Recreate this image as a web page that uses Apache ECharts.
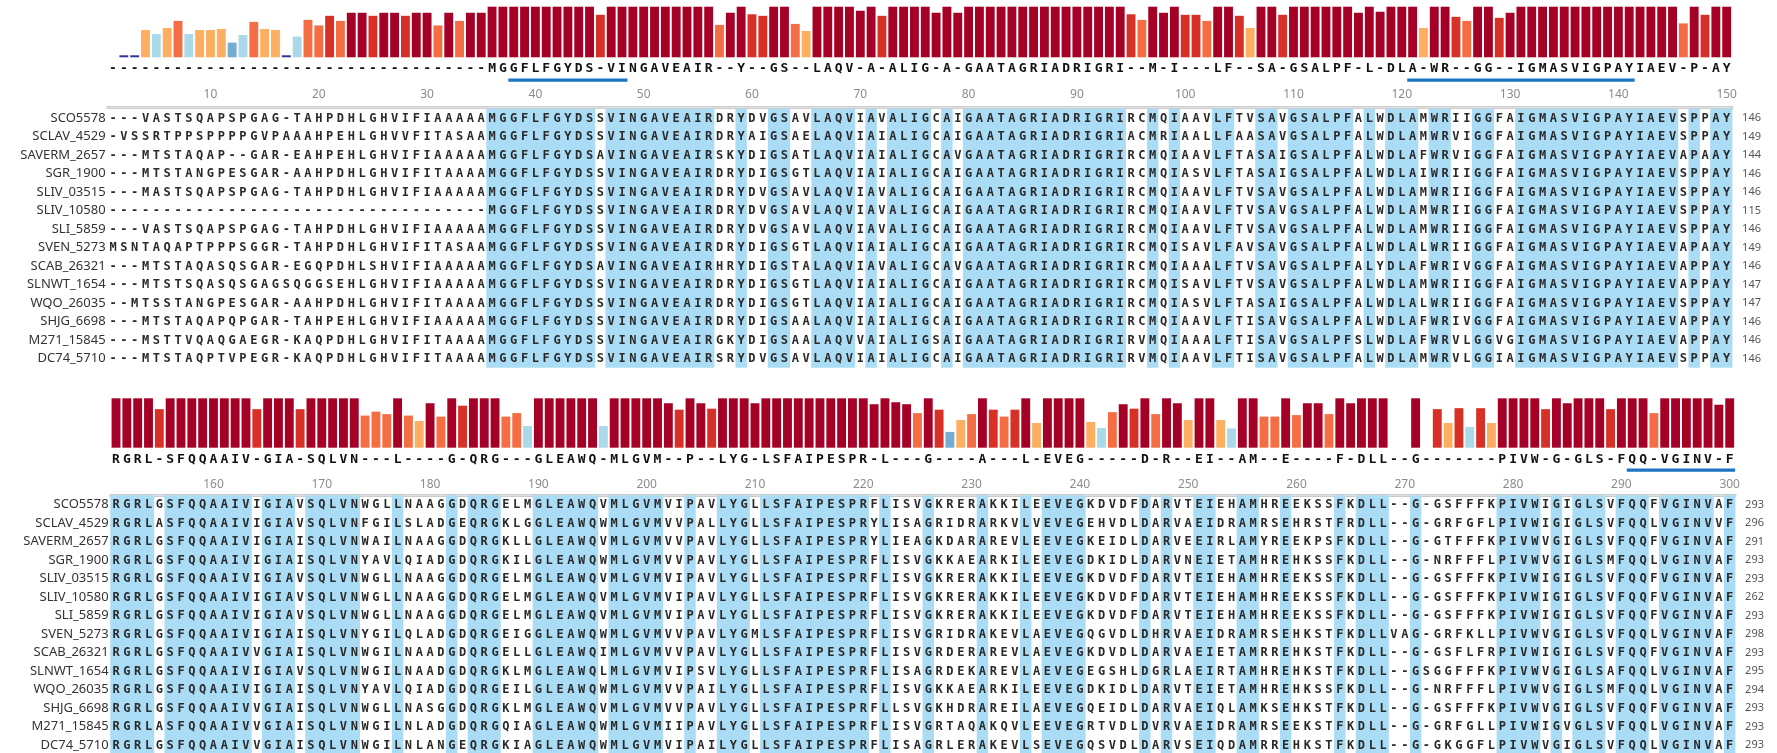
<!DOCTYPE html>
<html>
<head>
<meta charset="utf-8">
<script src="https://cdn.jsdelivr.net/npm/echarts/dist/echarts.min.js"></script>
<style>
  html, body { margin: 0; padding: 0; background: #ffffff; }
  #chart { width: 1777px; height: 753px; }
</style>
</head>
<body>
<div id="chart"></div>
<script>
// Sequence names (rows) and residue counts at the end of each block
const names = ['SCO5578', 'SCLAV_4529', 'SAVERM_2657', 'SGR_1900', 'SLIV_03515', 'SLIV_10580', 'SLI_5859',
  'SVEN_5273', 'SCAB_26321', 'SLNWT_1654', 'WQO_26035', 'SHJG_6698', 'M271_15845', 'DC74_5710'];
const counts1 = [146, 149, 144, 146, 146, 115, 146, 149, 146, 147, 147, 146, 146, 146];
const counts2 = [293, 296, 291, 293, 293, 262, 293, 298, 293, 295, 294, 293, 293, 293];

// Consensus lines (columns 1-150 and 151-300)
const consensus1 = '-----------------------------------MGGFLFGYDS-VINGAVEAIR--Y--GS--LAQV-A-ALIG-A-GAATAGRIADRIGRI--M-I---LF--SA-GSALPF-L-DLA-WR--GG--IGMASVIGPAYIAEV-P-AY';
const consensus2 = 'RGRL-SFQQAAIV-GIA-SQLVN---L----G-QRG---GLEAWQ-MLGVM--P--LYG-LSFAIPESPR-L---G----A---L-EVEG-----D-R--EI--AM--E----F-DLL--G-------PIVW-G-GLS-FQQ-VGINV-F';

// Aligned sequences, columns 1-150
const block1Seqs = [
  '---VASTSQAPSPGAG-TAHPDHLGHVIFIAAAAAMGGFLFGYDSSVINGAVEAIRDRYDVGSAVLAQVIAVALIGCAIGAATAGRIADRIGRIRCMQIAAVLFTVSAVGSALPFALWDLAMWRIIGGFAIGMASVIGPAYIAEVSPPAY',
  '-VSSRTPPSPPPPGVPAAAHPEHLGHVVFITASAAMGGFLFGYDSSVINGAVEAIRDRYAIGSAELAQVIAIALIGCAIGAATAGRIADRIGRIACMRIAALLFAASAVGSALPFALWDLAMWRVIGGFAIGMASVIGPAYIAEVSPPAY',
  '---MTSTAQAP--GAR-EAHPEHLGHVIFIAAAAAMGGFLFGYDSAVINGAVEAIRSKYDIGSATLAQVIAIALIGCAVGAATAGRIADRIGRIRCMQIAAVLFTASAIGSALPFALWDLAFWRVIGGFAIGMASVIGPAYIAEVAPAAY',
  '---MTSTANGPESGAR-AAHPDHLGHVIFITAAAAMGGFLFGYDSSVINGAVEAIRDRYDIGSGTLAQVIAIALIGCAIGAATAGRIADRIGRIRCMQIASVLFTASAIGSALPFALWDLAIWRIIGGFAIGMASVIGPAYIAEVSPPAY',
  '---MASTSQAPSPGAG-TAHPDHLGHVIFIAAAAAMGGFLFGYDSSVINGAVEAIRDRYDVGSAVLAQVIAVALIGCAIGAATAGRIADRIGRIRCMQIAAVLFTVSAVGSALPFALWDLAMWRIIGGFAIGMASVIGPAYIAEVSPPAY',
  '-----------------------------------MGGFLFGYDSSVINGAVEAIRDRYDVGSAVLAQVIAVALIGCAIGAATAGRIADRIGRIRCMQIAAVLFTVSAVGSALPFALWDLAMWRIIGGFAIGMASVIGPAYIAEVSPPAY',
  '---VASTSQAPSPGAG-TAHPDHLGHVIFIAAAAAMGGFLFGYDSSVINGAVEAIRDRYDVGSAVLAQVIAVALIGCAIGAATAGRIADRIGRIRCMQIAAVLFTVSAVGSALPFALWDLAMWRIIGGFAIGMASVIGPAYIAEVSPPAY',
  'MSNTAQAPTPPPSGGR-TAHPDHLGHVIFITASAAMGGFLFGYDSSVINGAVEAIRDRYDIGSGTLAQVIAIALIGCAIGAATAGRIADRIGRIRCMQISAVLFAVSAVGSALPFALWDLALWRIIGGFAIGMASVIGPAYIAEVAPAAY',
  '---MTSTAQASQSGAR-EGQPDHLSHVIFIAAAAAMGGFLFGYDSAVINGAVEAIRHRYDIGSTALAQVIAVALIGCAVGAATAGRIADRIGRIRCMQIAAALFTVSAVGSALPFALYDLAFWRIVGGFAIGMASVIGPAYIAEVAPPAY',
  '---MTSTSQASQSGAGSQGGSEHLGHVIFIAAAAAMGGFLFGYDSSVINGAVEAIRDRYDIGSGTLAQVIAIALIGCAIGAATAGRIADRIGRIRCMQISAVLFTVSAVGSALPFALWDLAMWRIIGGFAIGMASVIGPAYIAEVAPPAY',
  '--MTSSTANGPESGAR-AAHPDHLGHVIFITAAAAMGGFLFGYDSSVINGAVEAIRDRYDIGSGTLAQVIAIALIGCAIGAATAGRIADRIGRIRCMQIASVLFTASAIGSALPFALWDLALWRIIGGFAIGMASVIGPAYIAEVSPPAY',
  '---MTSTAQAPQPGAR-TAHPEHLGHVIFIAAAAAMGGFLFGYDSSVINGAVEAIRDRYDIGSAALAQVIAIALIGCAIGAATAGRIADRIGRIRCMQIAAVLFTISAVGSALPFALWDLAFWRIVGGFAIGMASVIGPAYIAEVAPPAY',
  '---MSTTVQAQGAEGR-KAQPDHLGHVIFITAAAAMGGFLFGYDSSVINGAVEAIRGKYDIGSAALAQVVAIALIGSAIGAATAGRIADRIGRIRVMQIAAALFTISAVGSALPFSLWDLAFWRVLGGVGIGMASVIGPAYIAEVAPPAY',
  '---MTSTAQPTVPEGR-KAQPDHLGHVIFITAAAAMGGFLFGYDSSVINGAVEAIRSRYDVGSAVLAQVIAIALIGCAIGAATAGRIADRIGRIRVMQIAAVLFTISAVGSALPFALWDLAMWRVLGGIAIGMASVIGPAYIAEVSPPAY'
];

// Aligned sequences, columns 151-300
const block2Seqs = [
  'RGRLGSFQQAAIVIGIAVSQLVNWGLLNAAGGDQRGELMGLEAWQVMLGVMVIPAVLYGLLSFAIPESPRFLISVGKRERAKKILEEVEGKDVDFDARVTEIEHAMHREEKSSFKDLL--G-GSFFFKPIVWIGIGLSVFQQFVGINVAF',
  'RGRLASFQQAAIVIGIAVSQLVNFGILSLADGEQRGKLGGLEAWQWMLGVMVVPALLYGLLSFAIPESPRYLISAGRIDRARKVLVEVEGEHVDLDARVAEIDRAMRSEHRSTFRDLL--G-GRFGFLPIVWIGIGLSVFQQLVGINVVF',
  'RGRLGSFQQAAIVIGIAISQLVNWAILNAAGGDQRGKLLGLEAWQVMLGVMVVPAVLYGLLSFAIPESPRYLIEAGKDARAREVLEEVEGKEIDLDARVEEIRLAMYREEKPSFKDLL--G-GTFFFKPIVWVGIGLSVFQQFVGINVAF',
  'RGRLGSFQQAAIVIGIAISQLVNYAVLQIADGDQRGKILGLEAWQWMLGVMVVPAVLYGLLSFAIPESPRFLISVGKKAEARKILEEVEGDKIDLDARVNEIETAMHREHKSSFKDLL--G-NRFFFLPIVWVGIGLSMFQQLVGINVAF',
  'RGRLGSFQQAAIVIGIAVSQLVNWGLLNAAGGDQRGELMGLEAWQVMLGVMVIPAVLYGLLSFAIPESPRFLISVGKRERAKKILEEVEGKDVDFDARVTEIEHAMHREEKSSFKDLL--G-GSFFFKPIVWIGIGLSVFQQFVGINVAF',
  'RGRLGSFQQAAIVIGIAVSQLVNWGLLNAAGGDQRGELMGLEAWQVMLGVMVIPAVLYGLLSFAIPESPRFLISVGKRERAKKILEEVEGKDVDFDARVTEIEHAMHREEKSSFKDLL--G-GSFFFKPIVWIGIGLSVFQQFVGINVAF',
  'RGRLGSFQQAAIVIGIAVSQLVNWGLLNAAGGDQRGELMGLEAWQVMLGVMVIPAVLYGLLSFAIPESPRFLISVGKRERAKKILEEVEGKDVDFDARVTEIEHAMHREEKSSFKDLL--G-GSFFFKPIVWIGIGLSVFQQFVGINVAF',
  'RGRLGSFQQAAIVIGIAISQLVNYGILQLADGDQRGEIGGLEAWQWMLGVMVVPAVLYGMLSFAIPESPRFLISVGRIDRAKEVLAEVEGQGVDLDHRVAEIDRAMRSEHKSTFKDLLVAG-GRFKLLPIVWVGIGLSVFQQLVGINVAF',
  'RGRLGSFQQAAIVVGIAISQLVNWGILNAADGDQRGELLGLEAWQIMLGVMVVPAVLYGLLSFAIPESPRFLISVGRDERAREVLAEVEGKDVDLDARVAEIETAMRREHKSTFKDLL--G-GSFLFRPIVWIGIGLSVFQQFVGINVAF',
  'RGRLGSFQQAAIVIGIAVSQLVNWGILNAADGDQRGKLMGLEAWQLMLGVMVIPSVLYGLLSFAIPESPRFLISAGRDEKAREVLAEVEGEGSHLDGRLAEIRTAMHREHKSTFKDLL--GSGGFFFKPIVWVGIGLSAFQQLVGINVAF',
  'RGRLGSFQQAAIVIGIAISQLVNYAVLQIADGDQRGEILGLEAWQWMLGVMVVPAILYGLLSFAIPESPRFLISVGKKAEARKILEEVEGDKIDLDARVTEIETAMHREHKSSFKDLL--G-NRFFFLPIVWVGIGLSMFQQLVGINVAF',
  'RGRLGSFQQAAIVVGIAISQLVNWGLLNASGGDQRGKLMGLEAWQVMLGVMVVPAVLYGLLSFAIPESPRFLLSVGKHDRAREILAEVEGQEIDLDARVAEIQLAMKSEHKSTFKDLL--G-GSFFFKPIVWVGIGLSVFQQFVGINVAF',
  'RGRLASFQQAAIVVGIAISQLVNWGILNLADGDQRGQIAGLEAWQWMLGVMIIPAVLYGLLSFAIPESPRFLISVGRTAQAKQVLEEVEGRTVDLDVRVAEIDRAMRSEEKSTFKDLL--G-GRFGLLPIVWIGVGLSVFQQLVGINVAF',
  'RGRLGSFQQAAIVVGIAISQLVNWGILNLANGEQRGKIAGLEAWQWMLGVMVIPAILYGLLSFAIPESPRFLISAGRLERAKEVLSEVEGQSVDLDARVSEIQDAMRREHKSTFKDLL--G-GKGGFLPIVWVGIGLSVFQQLVGINVAF'
];

// Per-column conservation scores (bar heights), columns 1-150
const scores1 = [
  0, 0.04, 0.04, 0.54, 0.46, 0.58, 0.72, 0.46, 0.54, 0.54,
  0.56, 0.29, 0.44, 0.70, 0.56, 0.54, 0.04, 0.41, 0.74, 0.63,
  0.82, 0.72, 0.88, 0.88, 0.82, 0.88, 0.88, 0.82, 0.88, 0.88,
  0.63, 0.88, 0.72, 0.88, 0.88, 1, 1, 1, 1, 1,
  1, 1, 1, 1, 1, 0.84, 1, 1, 1, 1,
  1, 1, 1, 1, 1, 1, 0.64, 0.88, 1, 0.85,
  0.82, 1, 1, 0.66, 0.52, 1, 1, 1, 1, 0.92,
  1, 0.82, 1, 1, 1, 1, 0.88, 1, 0.88, 1,
  1, 1, 1, 1, 1, 1, 1, 1, 1, 1,
  1, 1, 1, 1, 0.85, 0.74, 1, 0.88, 1, 0.84,
  0.84, 0.72, 1, 1, 0.82, 0.58, 1, 1, 0.84, 1,
  1, 1, 1, 1, 1, 0.88, 1, 0.90, 1, 1,
  1, 0.58, 1, 1, 0.80, 0.72, 1, 1, 0.78, 0.88,
  1, 1, 1, 1, 1, 1, 1, 1, 1, 1,
  1, 1, 1, 1, 1, 0.67, 1, 0.84, 1, 1
];

// Per-column conservation scores, columns 151-300
const scores2 = [
  1, 1, 1, 1, 0.78, 1, 1, 1, 1, 1,
  1, 1, 1, 0.78, 1, 1, 1, 0.78, 1, 1,
  1, 1, 1, 0.65, 0.73, 0.68, 1, 0.65, 0.54, 0.90,
  0.63, 1, 0.85, 1, 1, 1, 0.63, 0.70, 0.44, 1,
  1, 1, 1, 1, 1, 0.44, 1, 1, 1, 1,
  1, 0.90, 0.77, 1, 0.90, 0.79, 1, 1, 1, 0.90,
  1, 1, 1, 1, 1, 1, 1, 1, 1, 1,
  0.88, 1, 0.92, 0.88, 0.70, 1, 0.77, 0.32, 0.56, 0.68,
  1, 0.77, 0.63, 0.77, 1, 0.50, 1, 1, 1, 1,
  0.52, 0.40, 0.72, 0.88, 0.79, 1, 0.68, 1, 0.90, 0.56,
  1, 1, 0.56, 0.39, 1, 1, 0.63, 0.63, 1, 0.66,
  0.90, 0.90, 0.68, 1, 0.90, 1, 1, 1, 0, 0,
  1, 0, 0.78, 0.50, 0.80, 0.42, 0.80, 0.50, 1, 1,
  1, 1, 0.78, 1, 0.90, 1, 1, 1, 0.78, 1,
  1, 1, 0.70, 1, 1, 1, 1, 1, 0.87, 1
];

// Ruler tick labels
const tickLabels1 = ['10', '20', '30', '40', '50', '60', '70', '80', '90', '100', '110', '120', '130', '140', '150'];
const tickLabels2 = ['160', '170', '180', '190', '200', '210', '220', '230', '240', '250', '260', '270', '280', '290', '300'];

// Annotated regions underlined on the ruler (first and last column)
const regions1 = [[38, 48], [121, 141]];
const regions2 = [[291, 300]];

// ---- layout ----
const NCOL = 150;
const COL_W = 10.83;
const ROW_H = 18.5;
const layout = [
  { left: 107.6, barTop: 6.7, barH: 50.6, rulerTop: 80, rulerH: 27, rowTop: 108.7 },
  { left: 110.6, barTop: 398.3, barH: 49.4, rulerTop: 470, rulerH: 25, rowTop: 495.3 }
];
const blocks = [
  { start: 1, seqs: block1Seqs, cons: consensus1, scores: scores1, ticks: tickLabels1, counts: counts1, regions: regions1 },
  { start: 151, seqs: block2Seqs, cons: consensus2, scores: scores2, ticks: tickLabels2, counts: counts2, regions: regions2 }
];

const MONO = '"DejaVu Sans Mono", "Liberation Mono", monospace';

function barColor(v) {
  if (v < 0.2) return '#313695';
  if (v < 0.36) return '#74add1';
  if (v < 0.48) return '#abd9e9';
  if (v < 0.6) return '#fdae61';
  if (v < 0.76) return '#f46d43';
  if (v < 0.87) return '#d73027';
  return '#a50026';
}

const grid = [], xAxis = [], yAxis = [], series = [];

blocks.forEach(function (b, bi) {
  const L = layout[bi];
  const cols = [];
  for (let i = 0; i < NCOL; i++) cols.push(String(b.start + i));
  const isTick = function (i, v) { return b.ticks.indexOf(String(v)) >= 0; };

  const g0 = grid.length;
  const gw = NCOL * COL_W;
  grid.push({ left: L.left, width: gw, top: L.barTop, height: L.barH, containLabel: false, outerBoundsMode: 'none' });
  grid.push({ left: L.left, width: gw, top: L.rulerTop, height: L.rulerH, containLabel: false, outerBoundsMode: 'none' });
  grid.push({ left: L.left, width: gw, top: L.rowTop, height: names.length * ROW_H, containLabel: false, outerBoundsMode: 'none' });

  // conservation bars, consensus letters as the axis labels
  const xBar = xAxis.length;
  xAxis.push({
    type: 'category', gridIndex: g0, data: cols, position: 'bottom',
    axisLine: { show: false }, axisTick: { show: false }, splitLine: { show: false },
    axisLabel: {
      interval: 0, margin: 5, fontSize: 13, fontWeight: 'bold', fontFamily: MONO, color: '#111111',
      formatter: function (v, i) { return b.cons.charAt(i); }
    }
  });
  const yBar = yAxis.length;
  yAxis.push({ type: 'value', gridIndex: g0, min: 0, max: 1, show: false });

  // ruler
  const xRuler = xAxis.length;
  xAxis.push({
    type: 'category', gridIndex: g0 + 1, data: cols, position: 'top',
    axisLine: { lineStyle: { color: '#cccccc', width: 3 } },
    axisTick: { inside: true, alignWithLabel: true, length: 5, interval: isTick, lineStyle: { color: '#bbbbbb' } },
    axisLabel: { inside: true, margin: 9, interval: isTick, color: '#8c8c8c', fontSize: 12, fontFamily: '"Noto Sans", sans-serif' },
    splitLine: { show: false }
  });
  xAxis.push({
    type: 'category', gridIndex: g0 + 1, data: cols, position: 'bottom',
    axisLine: { lineStyle: { color: '#e2e2e2', width: 1 } },
    axisTick: { inside: true, alignWithLabel: true, length: 4, interval: isTick, lineStyle: { color: '#cccccc' } },
    axisLabel: { show: false }, splitLine: { show: false }
  });
  const yRuler = yAxis.length;
  yAxis.push({ type: 'value', gridIndex: g0 + 1, min: 0, max: 1, show: false });

  // alignment rows
  const xRows = xAxis.length;
  xAxis.push({ type: 'category', gridIndex: g0 + 2, data: cols, show: false });
  const yRows = yAxis.length;
  yAxis.push({
    type: 'category', gridIndex: g0 + 2, data: names, inverse: true,
    axisLine: { show: false }, axisTick: { show: false }, splitLine: { show: false },
    axisLabel: { margin: 2, fontSize: 13, color: '#333333', fontFamily: '"Liberation Sans Narrow", "Noto Sans", sans-serif' }
  });
  yAxis.push({
    type: 'category', gridIndex: g0 + 2, data: names, inverse: true, position: 'right',
    axisLine: { show: false }, axisTick: { show: false }, splitLine: { show: false },
    axisLabel: { margin: 10, fontSize: 11, color: '#555555', fontFamily: '"Noto Sans", sans-serif',
      formatter: function (v, i) { return String(b.counts[i]); } }
  });

  series.push({
    type: 'bar', xAxisIndex: xBar, yAxisIndex: yBar, data: b.scores, barCategoryGap: '18%', silent: true,
    itemStyle: { color: function (p) { return barColor(p.value); } }
  });

  // conserved columns (consensus letter present) get a blue band
  const conserved = [];
  for (let c = 0; c < NCOL; c++) if (b.cons.charAt(c) !== '-') conserved.push([c, 0]);
  series.push({
    type: 'custom', xAxisIndex: xRows, yAxisIndex: yRows, data: conserved, silent: true, z: 1,
    renderItem: function (params, api) {
      const cs = params.coordSys;
      const x = api.coord([api.value(0), 0])[0];
      const w = api.size([1, 0])[0];
      return { type: 'rect', shape: { x: x - w / 2 - 0.3, y: cs.y, width: w + 0.6, height: cs.height },
        style: { fill: '#aadcf5' } };
    }
  });

  // residue letters
  const cells = [], chars = [];
  b.seqs.forEach(function (s, r) {
    for (let c = 0; c < NCOL; c++) { cells.push([c, r]); chars.push(s.charAt(c) || ' '); }
  });
  series.push({
    type: 'custom', xAxisIndex: xRows, yAxisIndex: yRows, data: cells, silent: true, z: 3, progressive: 0,
    renderItem: function (params, api) {
      const p = api.coord([api.value(0), api.value(1)]);
      return { type: 'text', x: p[0], y: p[1] + 0.5,
        style: { text: chars[params.dataIndex], align: 'center', verticalAlign: 'middle',
          fontSize: 12, fontWeight: 'bold', fontFamily: MONO, fill: '#2a2a2a' } };
    }
  });

  // region underlines on the ruler
  series.push({
    type: 'custom', xAxisIndex: xRuler, yAxisIndex: yRuler, silent: true, z: 5,
    data: b.regions.map(function (r) { return [r[0] - b.start, r[1] - b.start]; }),
    renderItem: function (params, api) {
      const cs = params.coordSys;
      const w = api.size([1, 0])[0];
      const x1 = api.coord([api.value(0), 0])[0] - w / 2;
      const x2 = api.coord([api.value(1), 0])[0] + w / 2;
      return { type: 'rect', shape: { x: x1, y: cs.y - 1.5, width: x2 - x1, height: 3.2 },
        style: { fill: '#1b74c5' } };
    }
  });
});

const chart = echarts.init(document.getElementById('chart'), null, { renderer: 'canvas' });
chart.setOption({
  backgroundColor: '#ffffff',
  animation: false,
  grid: grid,
  xAxis: xAxis,
  yAxis: yAxis,
  series: series
});
</script>
</body>
</html>
